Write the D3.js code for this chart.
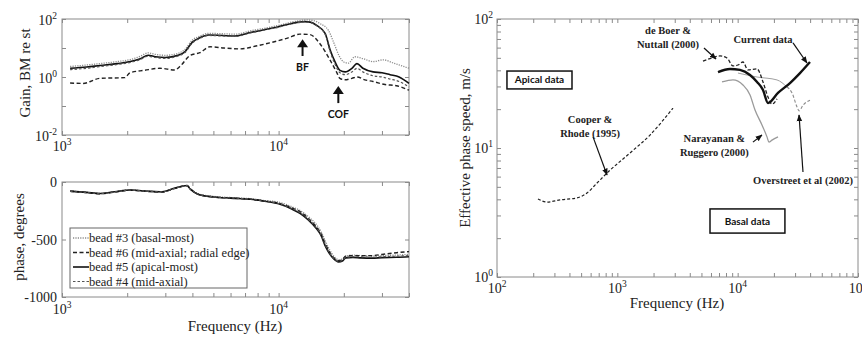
<html>
<head>
<script src="https://d3js.org/d3.v7.min.js"></script>
<style>
    body {
        margin: 0;
        background: #fff;
    }
    svg {
        display: block;
    }
    .frame {
        fill: none;
        stroke: #8a8a8a;
        stroke-width: 1;
    }
    .tick line {
        stroke: #8a8a8a;
    }
    .serif {
        font-family: "Liberation Serif", "Times New Roman", serif;
        fill: #222;
    }
    .note {
        font-family: "Liberation Serif", "Times New Roman", serif;
        font-weight: bold;
        font-size: 10.5px;
        fill: #222;
    }
    .sans {
        font-family: Lato, "DejaVu Sans", sans-serif;
        font-weight: bold;
        fill: #111;
    }
</style>
</head>
<body>

<svg id='fig' width=862 height=337></svg>

<script>

    // ---- left panels: four beads, gain (re stapes) and phase ----
    var beadNames = ['bead #3 (basal-most)', 'bead #6 (mid-axial; radial edge)',
                     'bead #5 (apical-most)', 'bead #4 (mid-axial)'];

    var gainBead3 = [[1090, 2.3], [1300, 2.6], [1500, 2.9], [1800, 3.4], [2070, 4.0], [2300, 5.2],
        [2500, 6.8], [2700, 6.0], [3000, 5.6], [3440, 6.6], [3700, 9], [4000, 19], [4300, 25],
        [4740, 32], [5500, 31], [6300, 30], [7400, 39], [8500, 47], [10000, 60], [11500, 78],
        [13500, 93], [14500, 88], [15500, 70], [17000, 40], [18000, 15], [19000, 5.5],
        [20000, 3.3], [21000, 3.0], [22500, 5.0], [24500, 4.3], [27300, 3.4], [30500, 3.9],
        [34000, 3.0], [40000, 2.0]];

    var gainBead6 = [[1090, 0.62], [1250, 0.6], [1500, 0.9], [1950, 0.95], [2060, 1.4],
        [2400, 1.7], [2830, 2.0], [3320, 1.74], [3500, 2.3], [3900, 5.5], [4330, 6.9],
        [4820, 11], [5600, 10], [6630, 9.3], [8000, 12], [9100, 15], [11000, 22], [12540, 30],
        [13950, 29], [15520, 14], [17260, 3.9], [18500, 1.5], [19190, 0.9], [20260, 0.8],
        [21800, 0.9], [23030, 1.0], [25000, 0.8], [27300, 0.7], [31000, 0.55], [35000, 0.5],
        [40000, 0.35]];

    var gainBead5 = [[1090, 2.0], [1300, 2.2], [1500, 2.5], [1800, 2.9], [2070, 3.4], [2300, 4.3],
        [2500, 5.6], [2700, 5.0], [3000, 4.7], [3440, 5.6], [3700, 7.5], [4000, 16], [4300, 22],
        [4740, 28], [5500, 27], [6300, 26], [7400, 34], [8500, 42], [10000, 54], [11500, 70],
        [13200, 81], [14000, 78], [15000, 60], [16400, 32], [17300, 8.5], [18200, 3.4],
        [19200, 1.7], [20300, 1.5], [21800, 2.0], [23000, 2.9], [24500, 2.0], [27300, 1.5],
        [30000, 1.4], [32700, 1.2], [36000, 1.0], [40000, 0.6]];

    var gainBead4 = [[1090, 1.8], [1300, 2.0], [1500, 2.3], [1800, 2.7], [2070, 3.2], [2300, 4.0],
        [2500, 5.2], [2700, 4.7], [3000, 4.4], [3440, 5.3], [3700, 7.0], [4000, 15], [4300, 21],
        [4740, 27], [5500, 26], [6300, 25], [7400, 33], [8500, 41], [10000, 52], [11500, 68],
        [13200, 79], [14000, 76], [15000, 58], [16400, 30], [17300, 7.5], [18200, 2.8],
        [19200, 1.4], [20300, 1.2], [21800, 1.5], [23000, 2.0], [24500, 1.5], [27300, 1.1],
        [30000, 1.0], [32700, 0.85], [36000, 0.7], [40000, 0.45]];

    var phaseBead3 = [[1090, -78], [1300, -90], [1500, -100], [1750, -85], [2070, -70],
        [2500, -80], [2900, -85], [3300, -55], [3780, -30], [3900, -55], [4300, -105],
        [5000, -125], [6000, -135], [7400, -145], [8500, -160], [10000, -175], [11500, -215],
        [12600, -250], [13800, -305], [14800, -360], [15700, -430], [16500, -520],
        [17200, -590], [17900, -640], [18900, -675], [19800, -670], [20400, -645],
        [22000, -635], [24000, -640], [27000, -645], [30000, -640], [35000, -635],
        [40000, -630]];

    var phaseBead6 = [[1090, -80], [1300, -92], [1500, -102], [1750, -87], [2070, -72],
        [2500, -82], [2900, -87], [3300, -57], [3780, -32], [3900, -58], [4300, -110],
        [5000, -130], [6000, -140], [7400, -150], [8500, -165], [10000, -185], [11500, -225],
        [12600, -260], [13800, -320], [14800, -380], [15700, -450], [16500, -545],
        [17200, -610], [17900, -655], [18900, -685], [19800, -670], [20400, -645],
        [22000, -640], [24000, -640], [27000, -640], [30000, -630], [35000, -615],
        [40000, -605]];

    var phaseBead5 = [[1090, -80], [1300, -90], [1500, -100], [1750, -85], [2070, -70],
        [2500, -80], [2900, -85], [3300, -55], [3780, -30], [3900, -60], [4300, -110],
        [5000, -130], [6000, -140], [7400, -150], [8500, -165], [10000, -190], [11500, -235],
        [12600, -275], [13800, -335], [14800, -395], [15700, -465], [16500, -565],
        [17200, -625], [17900, -665], [18900, -695], [19800, -685], [20400, -660],
        [22000, -655], [24000, -660], [27000, -662], [30000, -658], [35000, -655],
        [40000, -650]];

    var phaseBead4 = [[1090, -82], [1300, -92], [1500, -101], [1750, -86], [2070, -71],
        [2500, -81], [2900, -86], [3300, -56], [3780, -31], [3900, -59], [4300, -108],
        [5000, -128], [6000, -138], [7400, -148], [8500, -163], [10000, -187], [11500, -230],
        [12600, -268], [13800, -328], [14800, -388], [15700, -458], [16500, -555],
        [17200, -618], [17900, -660], [18900, -690], [19800, -680], [20400, -655],
        [22000, -650], [24000, -650], [27000, -655], [30000, -650], [35000, -645],
        [40000, -640]];

    // ---- right panel: effective phase speed ----
    var cooperRhode = [[219, 4.03], [260, 3.81], [334, 3.96], [462, 4.10], [560, 4.48],
        [678, 5.35], [821, 6.40], [1274, 9.15], [1868, 12.6], [2901, 20.4]];

    var currentData = [[6865, 38.8], [8630, 41.0], [10450, 40.3], [12660, 36.8], [14490, 32.5],
        [16240, 28.2], [17870, 22.3], [21630, 26.7], [27220, 31.9], [32960, 38.1], [39900, 46.4]];

    var deBoerNuttall = [[5150, 47.2], [6120, 49.9], [7130, 51.7], [8150, 49.9], [9140, 43.3],
        [10060, 44.0], [11070, 46.4], [12180, 40.3], [14490, 41.0], [16240, 32.5],
        [17870, 24.8], [19280, 21.9], [21230, 24.0]];

    var narayananRuggero = [[7410, 32.5], [9140, 33.7], [11070, 30.8], [12670, 25.8],
        [13940, 19.7], [15920, 15.1], [17530, 12.2], [18200, 11.1], [19280, 11.5], [21630, 12.2]];

    var overstreetLow = [[10060, 38.1], [14490, 35.5], [21230, 33.7], [25700, 29.7]];
    var overstreetHigh = [[25700, 29.7], [28310, 26.7], [31140, 20.8], [32360, 19.4],
        [34930, 21.5], [39900, 23.5]];

    var svg = d3.select('#fig');

    svg.append('defs').append('marker')
        .attr('id', 'head')
        .attr('viewBox', '0 0 10 10')
        .attr('refX', 9).attr('refY', 5)
        .attr('markerWidth', 7).attr('markerHeight', 7)
        .attr('markerUnits', 'userSpaceOnUse')
        .attr('orient', 'auto')
      .append('path')
        .attr('d', 'M0,1 L10,5 L0,9 Z')
        .attr('fill', '#111');

    // panel geometry
    var gainX = d3.scaleLog().domain([1000, 40000]).range([62, 409]);
    var gainY = d3.scaleLog().domain([0.01, 100]).range([135, 19]);
    var phaseX = d3.scaleLog().domain([1000, 40000]).range([62, 409]);
    var phaseY = d3.scaleLinear().domain([-1000, 0]).range([297, 182]);
    var speedX = d3.scaleLog().domain([100, 100000]).range([497, 858]);
    var speedY = d3.scaleLog().domain([1, 100]).range([277, 19]);

    function drawFrame(x, y, xTicks, yTicks) {
        var g = svg.append('g');
        var x0 = x.range()[0], x1 = x.range()[1],
            y0 = y.range()[1], y1 = y.range()[0];

        var axes = [
            [d3.axisBottom(x).tickValues(xTicks), 'translate(0,' + y1 + ')'],
            [d3.axisTop(x).tickValues(xTicks), 'translate(0,' + y0 + ')'],
            [d3.axisLeft(y).tickValues(yTicks), 'translate(' + x0 + ',0)'],
            [d3.axisRight(y).tickValues(yTicks), 'translate(' + x1 + ',0)']
        ];
        axes.forEach(function(a) {
            var ax = g.append('g')
                .attr('transform', a[1])
                .call(a[0].tickSizeInner(-4).tickSizeOuter(0).tickFormat(''));
            ax.select('.domain').remove();
        });

        g.append('rect')
            .attr('class', 'frame')
            .attr('x', x0).attr('y', y0)
            .attr('width', x1 - x0).attr('height', y1 - y0);
        return g;
    }

    function powerLabel(px, py, exp, anchor) {
        var t = svg.append('text')
            .attr('class', 'serif')
            .attr('x', px).attr('y', py)
            .attr('text-anchor', anchor)
            .style('font-size', '14px')
            .text('10');
        t.append('tspan')
            .attr('dy', -6)
            .style('font-size', '9.5px')
            .text(exp);
    }

    function drawLine(x, y, data, style) {
        var line = d3.line()
            .x(function(d) { return x(d[0]); })
            .y(function(d) { return y(d[1]); })
            .curve(d3.curveMonotoneX);
        return svg.append('path')
            .datum(data)
            .attr('d', line)
            .attr('fill', 'none')
            .attr('stroke', style.color)
            .attr('stroke-width', style.width)
            .attr('stroke-dasharray', style.dash || null)
            .attr('stroke-linejoin', 'round');
    }

    var beadStyles = [
        {color: '#8c8c8c', width: 1.3, dash: '1.2,1.2'},
        {color: '#222', width: 1.4, dash: '4,2.5'},
        {color: '#111', width: 1.6},
        {color: '#555', width: 1.2, dash: '2.5,2'}
    ];

    // ---------- gain panel ----------
    drawFrame(gainX, gainY, gainX.ticks(), [0.01, 0.1, 1, 10, 100]);
    [gainBead3, gainBead6, gainBead5, gainBead4].forEach(function(data, i) {
        drawLine(gainX, gainY, data, beadStyles[i]);
    });

    [[1000, '3'], [10000, '4']].forEach(function(t) {
        powerLabel(gainX(t[0]), 151, t[1], 'middle');
    });
    [[100, '2'], [1, '0'], [0.01, '-2']].forEach(function(t) {
        powerLabel(57, gainY(t[0]) + 6, t[1], 'end');
    });

    svg.append('text')
        .attr('class', 'serif')
        .attr('transform', 'translate(30,' + 73 + ') rotate(-90)')
        .attr('text-anchor', 'middle')
        .style('font-size', '15px')
        .text('Gain, BM re st');

    // BF and COF markers
    var gainArrows = [
        {f: 12900, tip: 20, base: 5.3, label: 'BF'},
        {f: 18870, tip: 0.49, base: 0.126, label: 'COF'}
    ];
    gainArrows.forEach(function(a) {
        var ax = gainX(a.f), yt = gainY(a.tip), yb = gainY(a.base);
        svg.append('line')
            .attr('x1', ax).attr('x2', ax)
            .attr('y1', yt + 6).attr('y2', yb)
            .attr('stroke', '#111').attr('stroke-width', 2);
        svg.append('path')
            .attr('d', 'M' + ax + ',' + yt + ' l-5.5,8 l11,0 Z')
            .attr('fill', '#111');
        svg.append('text')
            .attr('class', 'sans')
            .attr('x', ax).attr('y', yb + 15)
            .attr('text-anchor', 'middle')
            .style('font-size', '10.5px')
            .text(a.label);
    });

    // ---------- phase panel ----------
    drawFrame(phaseX, phaseY, phaseX.ticks(), [-1000, -500, 0]);
    [phaseBead3, phaseBead6, phaseBead5, phaseBead4].forEach(function(data, i) {
        drawLine(phaseX, phaseY, data, beadStyles[i]);
    });

    [[1000, '3'], [10000, '4']].forEach(function(t) {
        powerLabel(phaseX(t[0]), 314, t[1], 'middle');
    });
    [0, -500, -1000].forEach(function(v) {
        svg.append('text')
            .attr('class', 'serif')
            .attr('x', 57).attr('y', phaseY(v) + 5)
            .attr('text-anchor', 'end')
            .style('font-size', '14px')
            .text(v);
    });

    svg.append('text')
        .attr('class', 'serif')
        .attr('transform', 'translate(24,' + 237 + ') rotate(-90)')
        .attr('text-anchor', 'middle')
        .style('font-size', '15px')
        .text('phase, degrees');

    svg.append('text')
        .attr('class', 'serif')
        .attr('x', 235).attr('y', 331)
        .attr('text-anchor', 'middle')
        .style('font-size', '15px')
        .text('Frequency (Hz)');

    // legend
    var legend = svg.append('g').attr('transform', 'translate(70,228)');
    legend.append('rect')
        .attr('width', 177).attr('height', 60)
        .attr('fill', '#fff')
        .attr('stroke', '#666').attr('stroke-width', 1);
    beadNames.forEach(function(name, i) {
        var ly = 10 + i * 14.5;
        legend.append('line')
            .attr('x1', 3).attr('x2', 19)
            .attr('y1', ly).attr('y2', ly)
            .attr('stroke', beadStyles[i].color)
            .attr('stroke-width', beadStyles[i].width)
            .attr('stroke-dasharray', beadStyles[i].dash || null);
        legend.append('text')
            .attr('class', 'serif')
            .attr('x', 19).attr('y', ly + 4)
            .style('font-size', '12.5px')
            .text(name);
    });

    // ---------- speed panel ----------
    drawFrame(speedX, speedY, speedX.ticks(), speedY.ticks());

    drawLine(speedX, speedY, cooperRhode, {color: '#222', width: 1.2, dash: '3,2'});
    drawLine(speedX, speedY, narayananRuggero, {color: '#9a9a9a', width: 1.3});
    drawLine(speedX, speedY, overstreetLow, {color: '#a0a0a0', width: 1});
    drawLine(speedX, speedY, overstreetHigh, {color: '#8c8c8c', width: 1.1, dash: '3,2'});
    drawLine(speedX, speedY, deBoerNuttall, {color: '#222', width: 1.3, dash: '3.5,2'});
    drawLine(speedX, speedY, currentData, {color: '#111', width: 2.4});

    [[100, '2'], [1000, '3'], [10000, '4'], [100000, '5']].forEach(function(t) {
        powerLabel(speedX(t[0]), 293, t[1], 'middle');
    });
    [[100, '2'], [10, '1'], [1, '0']].forEach(function(t) {
        powerLabel(493, speedY(t[0]) + 5, t[1], 'end');
    });

    svg.append('text')
        .attr('class', 'serif')
        .attr('transform', 'translate(470,' + 148 + ') rotate(-90)')
        .attr('text-anchor', 'middle')
        .style('font-size', '15px')
        .text('Effective phase speed, m/s');

    svg.append('text')
        .attr('class', 'serif')
        .attr('x', 677).attr('y', 308)
        .attr('text-anchor', 'middle')
        .style('font-size', '15px')
        .text('Frequency (Hz)');

    // source notes (placed in data units of the speed panel)
    var speedNotes = [
        {f: 2640, v: 76.5, lines: ['de Boer &', 'Nuttall (2000)']},
        {f: 16250, v: 65.2, lines: ['Current data']},
        {f: 593, v: 15.6, lines: ['Cooper &', 'Rhode (1995)']},
        {f: 6400, v: 11.1, lines: ['Narayanan &', 'Ruggero (2000)']},
        {f: 34900, v: 5.26, lines: ['Overstreet et al (2002)']}
    ];
    speedNotes.forEach(function(n) {
        var t = svg.append('text')
            .attr('class', 'note')
            .attr('text-anchor', 'middle');
        n.lines.forEach(function(s, i) {
            t.append('tspan')
                .attr('x', speedX(n.f))
                .attr('y', speedY(n.v) + i * 13.5)
                .text(s);
        });
    });

    var speedArrows = [
        [[628, 12.2], [821, 6.18]],
        [[13400, 11.1], [15920, 12.6]],
        [[5250, 59.6], [6610, 49.0]],
        [[28840, 65.2], [37670, 45.6]],
        [[34900, 6.52], [32360, 18.0]]
    ];
    speedArrows.forEach(function(a) {
        svg.append('line')
            .attr('x1', speedX(a[0][0])).attr('y1', speedY(a[0][1]))
            .attr('x2', speedX(a[1][0])).attr('y2', speedY(a[1][1]))
            .attr('stroke', '#111').attr('stroke-width', 1.2)
            .attr('marker-end', 'url(#head)');
    });

    var speedBoxes = [
        {f0: 121, f1: 420, v0: 39.5, v1: 28.7, label: 'Apical data'},
        {f0: 5890, f1: 24700, v0: 3.37, v1: 2.19, label: 'Basal data'}
    ];
    speedBoxes.forEach(function(b) {
        var bx0 = speedX(b.f0), bx1 = speedX(b.f1),
            by0 = speedY(b.v0), by1 = speedY(b.v1);
        svg.append('rect')
            .attr('x', bx0).attr('y', by0)
            .attr('width', bx1 - bx0).attr('height', by1 - by0)
            .attr('fill', '#fff')
            .attr('stroke', '#111').attr('stroke-width', 1.5);
        svg.append('text')
            .attr('class', 'sans')
            .attr('x', (bx0 + bx1) / 2).attr('y', (by0 + by1) / 2 + 3.5)
            .attr('text-anchor', 'middle')
            .style('font-size', '10px')
            .text(b.label);
    });

</script>

</body>
</html>
